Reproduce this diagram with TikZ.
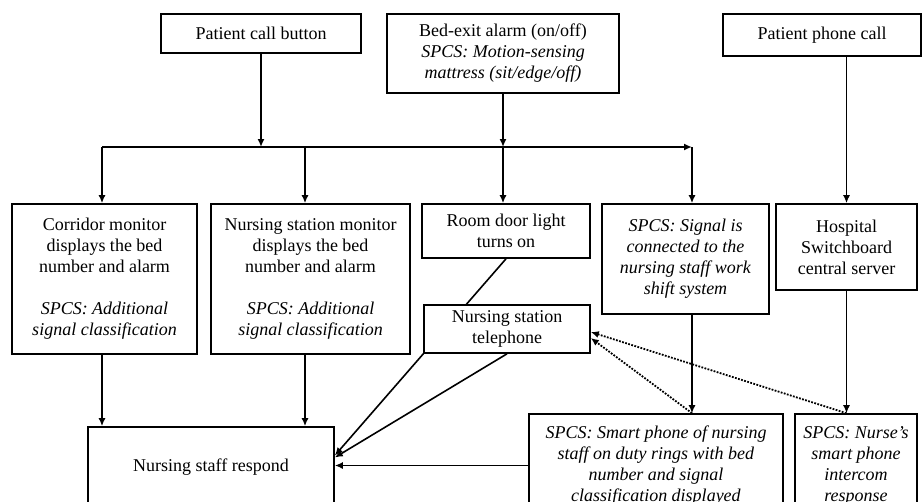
\documentclass[tikz,border=0pt]{standalone}
\usepackage{fontspec}
\setmainfont{Liberation Serif}
\usetikzlibrary{arrows.meta}
\begin{document}
\begin{tikzpicture}[x=1pt,y=-1pt,>={Latex[length=8pt,width=7pt]},
	box/.style={draw,rectangle,fill=white,line width=1.6pt,inner sep=0pt,align=center,
		font=\fontsize{18}{21}\selectfont}]
	\useasboundingbox(0,0)rectangle(923,501);
	\node(btn)[box,minimum width=200,minimum height=39]at(261,33.5){Patient call button};
	\node(bed)[box,minimum width=232,minimum height=79]at(503,53.5){Bed-exit alarm (on/off)\\\textit{SPCS: Motion-sensing}\\\textit{mattress (sit/edge/off)}};
	\node(ph)[box,minimum width=198,minimum height=42]at(822,35){Patient phone call};
	\node(cor)[box,minimum width=185,minimum height=150]at(104.5,279){Corridor monitor\\displays the bed\\number and alarm\\[21pt]\textit{SPCS: Additional}\\\textit{signal classification}};
	\node(nsm)[box,minimum width=199,minimum height=150]at(310.5,279){Nursing station monitor\\displays the bed\\number and alarm\\[21pt]\textit{SPCS: Additional}\\\textit{signal classification}};
	\node(room)[box,minimum width=168,minimum height=54]at(506,231){Room door light\\turns on};
	\node(sig)[box,minimum width=167,minimum height=110]at(685.5,259){\textit{SPCS: Signal is}\\\textit{connected to the}\\\textit{nursing staff work}\\\textit{shift system}};
	\node(hosp)[box,minimum width=141,minimum height=86]at(846.5,247){Hospital\\Switchboard\\central server};
	\node(resp)[box,minimum width=246,minimum height=81]at(211,467.5){Nursing staff respond};
	\node(sp)[box,minimum width=254,minimum height=103]at(656,465.5){\textit{SPCS: Smart phone of nursing}\\\textit{staff on duty rings with bed}\\\textit{number and signal}\\\textit{classification displayed}};
	\node(ns)[box,minimum width=122,minimum height=103]at(856,465.5){\textit{SPCS: Nurse's}\\\textit{smart phone}\\\textit{intercom}\\\textit{response}};
	\coordinate(b1)at(102,147);
	\coordinate(b2)at(305,147);
	\coordinate(b4)at(692,147);
	% door light line runs behind the telephone box
	\draw[->,line width=1.6pt](room.south)--([yshift=12pt]resp.east);
	\node(tel)[box,minimum width=166,minimum height=48]at(507,329){Nursing station\\telephone};
	\tikzset{every path/.style={->,line width=1.6pt}}
	\draw(btn.south)--(btn.south|-b1);
	\draw(bed.south)--(bed.south|-b1);
	\draw(b1)--(b4);
	\draw(b1)--(b1|-cor.north);
	\draw(b2)--(b2|-nsm.north);
	\draw(bed.south|-b1)--(bed.south|-room.north);
	\draw(b4)--(b4|-sig.north);
	\draw(ph.south-|hosp.north)--(hosp.north);
	\draw(b1|-cor.south)--(b1|-resp.north);
	\draw(b2|-nsm.south)--(b2|-resp.north);
	\draw(tel.south)--([yshift=10pt]resp.east);
	\draw(sp.west)--(sp.west-|resp.east);
	\draw(b4|-sig.south)--(b4|-sp.north);
	\draw(hosp.south)--(hosp.south|-ns.north);
	\draw[dash pattern=on 1.8pt off 1.4pt,line width=1.8pt](b4|-sp.north)--([yshift=-9pt]tel.east);
	\draw[dash pattern=on 1.8pt off 1.4pt,line width=1.8pt](hosp.south|-ns.north)--([yshift=-3pt]tel.east);
\end{tikzpicture}
\end{document}
